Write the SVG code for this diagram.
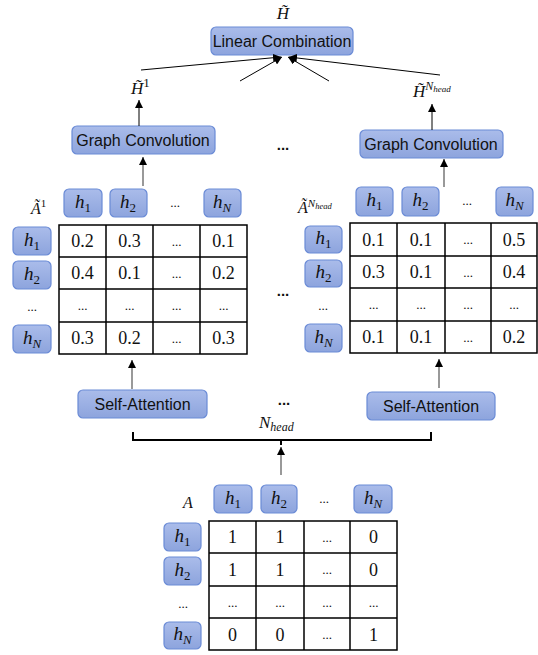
<svg xmlns="http://www.w3.org/2000/svg" width="538" height="655" viewBox="0 0 538 655">
<defs>
<linearGradient id="bg" x1="0" y1="0" x2="0" y2="1">
<stop offset="0" stop-color="#AABCEA"/>
<stop offset="1" stop-color="#8DA4DD"/>
</linearGradient>
<marker id="ah" viewBox="0 0 10 10" refX="10" refY="5" markerWidth="8" markerHeight="8" markerUnits="userSpaceOnUse" orient="auto">
<path d="M0,0 L10,5 L0,10 z" fill="#000"/>
</marker>
</defs>
<style>
.box{fill:url(#bg);stroke:#6A8BD6;stroke-width:1.2}
.lbl{font-family:"Liberation Sans",Arial,sans-serif;font-size:16px;fill:#111;text-anchor:middle}
.m{font-family:"Liberation Serif","DejaVu Serif",serif;font-style:italic;fill:#111}
.h{font-family:"Liberation Serif","DejaVu Serif",serif;font-style:italic;font-size:19px;fill:#111;text-anchor:middle}
.sub{font-size:13px;font-style:normal}
.subi{font-size:13px;font-style:italic}
.c{font-family:"Liberation Serif","Times New Roman",serif;font-size:18px;fill:#111;text-anchor:middle}
.d{font-family:"Liberation Serif","Times New Roman",serif;font-size:13px;fill:#111;text-anchor:middle}
.bd{font-family:"Liberation Sans",Arial,sans-serif;font-size:15px;font-weight:bold;fill:#111;text-anchor:middle}
.grid{fill:none;stroke:#000;stroke-width:1.5}
.con{stroke:#000;stroke-width:1;fill:none}
.gcon{stroke:#555;stroke-width:1.2;fill:none}
</style>

<text class="m" x="283" y="19" font-size="17" text-anchor="middle">H̃</text>

<g id="linear-combination">
<rect class="box" x="211" y="27" width="142" height="28" rx="5"/>
<text class="lbl" x="282" y="47">Linear Combination</text>
</g>

<text class="m" x="131" y="94" font-size="17">H̃<tspan font-size="13" font-style="normal" dy="-7">1</tspan></text>
<text class="m" x="413" y="97" font-size="17">H̃<tspan font-size="12" dy="-7">N</tspan><tspan font-size="9" dy="2">head</tspan></text>

<g id="graph-conv-1">
<rect class="box" x="72" y="126" width="143" height="28" rx="5"/>
<text class="lbl" x="143" y="146">Graph Convolution</text>
</g>
<g id="graph-conv-n">
<rect class="box" x="360" y="130" width="143" height="28" rx="5"/>
<text class="lbl" x="431" y="150">Graph Convolution</text>
</g>
<text class="bd" x="283" y="150">...</text>

<g id="matrix-1">
<text class="m" x="31" y="214" font-size="16">Ã<tspan font-size="11" font-style="normal" dy="-7">1</tspan></text>
<rect class="box" x="64" y="189" width="38" height="28" rx="5"/>
<text class="h" x="83" y="208">h<tspan class="sub" dy="4">1</tspan></text>
<rect class="box" x="110" y="189" width="37" height="28" rx="5"/>
<text class="h" x="128" y="208">h<tspan class="sub" dy="4">2</tspan></text>
<text class="d" x="175" y="207">...</text>
<rect class="box" x="204" y="189" width="37" height="28" rx="5"/>
<text class="h" x="222" y="208">h<tspan class="subi" dy="4">N</tspan></text>

<rect class="box" x="13" y="227" width="38" height="28" rx="5"/>
<text class="h" x="32" y="246">h<tspan class="sub" dy="4">1</tspan></text>
<rect class="box" x="13" y="261" width="38" height="28" rx="5"/>
<text class="h" x="32" y="280">h<tspan class="sub" dy="4">2</tspan></text>
<text class="d" x="32" y="311">...</text>
<rect class="box" x="13" y="325" width="38" height="28" rx="5"/>
<text class="h" x="32" y="344">h<tspan class="subi" dy="4">N</tspan></text>

<path class="grid" d="M59,225H247V354H59Z M106,225V354 M153,225V354 M200,225V354 M59,257H247 M59,289H247 M59,322H247"/>
<text class="c" x="82.5" y="247">0.2</text><text class="c" x="129.5" y="247">0.3</text><text class="d" x="176.5" y="246">...</text><text class="c" x="223.5" y="247">0.1</text>
<text class="c" x="82.5" y="279">0.4</text><text class="c" x="129.5" y="279">0.1</text><text class="d" x="176.5" y="278">...</text><text class="c" x="223.5" y="279">0.2</text>
<text class="d" x="82.5" y="310">...</text><text class="d" x="129.5" y="310">...</text><text class="d" x="176.5" y="310">...</text><text class="d" x="223.5" y="310">...</text>
<text class="c" x="82.5" y="344">0.3</text><text class="c" x="129.5" y="344">0.2</text><text class="d" x="176.5" y="343">...</text><text class="c" x="223.5" y="344">0.3</text>
</g>

<text class="bd" x="283" y="296">...</text>

<g id="matrix-n">
<text class="m" x="298" y="213" font-size="16">Ã<tspan font-size="11" dy="-6">N</tspan><tspan font-size="8.5" dy="2">head</tspan></text>
<rect class="box" x="356" y="187" width="37" height="29" rx="5"/>
<text class="h" x="374.5" y="206">h<tspan class="sub" dy="4">1</tspan></text>
<rect class="box" x="402" y="187" width="37" height="29" rx="5"/>
<text class="h" x="420.5" y="206">h<tspan class="sub" dy="4">2</tspan></text>
<text class="d" x="467" y="205">...</text>
<rect class="box" x="496" y="187" width="37" height="29" rx="5"/>
<text class="h" x="514.5" y="206">h<tspan class="subi" dy="4">N</tspan></text>

<rect class="box" x="305" y="226" width="37" height="27" rx="5"/>
<text class="h" x="323.5" y="244">h<tspan class="sub" dy="4">1</tspan></text>
<rect class="box" x="305" y="260" width="37" height="27" rx="5"/>
<text class="h" x="323.5" y="278">h<tspan class="sub" dy="4">2</tspan></text>
<text class="d" x="323" y="310">...</text>
<rect class="box" x="305" y="324" width="37" height="28" rx="5"/>
<text class="h" x="323.5" y="343">h<tspan class="subi" dy="4">N</tspan></text>

<path class="grid" d="M350,223H537V353H350Z M397,223V353 M445,223V353 M491,223V353 M350,256H537 M350,288H537 M350,321H537"/>
<text class="c" x="373.5" y="246">0.1</text><text class="c" x="421" y="246">0.1</text><text class="d" x="468" y="244">...</text><text class="c" x="514" y="246">0.5</text>
<text class="c" x="373.5" y="278">0.3</text><text class="c" x="421" y="278">0.1</text><text class="d" x="468" y="277">...</text><text class="c" x="514" y="278">0.4</text>
<text class="d" x="373.5" y="309">...</text><text class="d" x="421" y="309">...</text><text class="d" x="468" y="309">...</text><text class="d" x="514" y="309">...</text>
<text class="c" x="373.5" y="343">0.1</text><text class="c" x="421" y="343">0.1</text><text class="d" x="468" y="342">...</text><text class="c" x="514" y="343">0.2</text>
</g>

<g id="self-attention-1">
<rect class="box" x="78" y="390" width="129" height="28" rx="5"/>
<text class="lbl" x="142.5" y="410">Self-Attention</text>
</g>
<g id="self-attention-n">
<rect class="box" x="367" y="392" width="128" height="28" rx="5"/>
<text class="lbl" x="431" y="412">Self-Attention</text>
</g>
<text class="bd" x="284" y="405">...</text>
<text class="m" x="259" y="428" font-size="17">N<tspan font-size="12" dy="3">head</tspan></text>

<g id="matrix-a">
<text class="m" x="188" y="508" font-size="16" text-anchor="middle">A</text>
<rect class="box" x="214" y="485" width="38" height="28" rx="5"/>
<text class="h" x="233" y="504">h<tspan class="sub" dy="4">1</tspan></text>
<rect class="box" x="261" y="485" width="36" height="28" rx="5"/>
<text class="h" x="279" y="504">h<tspan class="sub" dy="4">2</tspan></text>
<text class="d" x="324" y="503">...</text>
<rect class="box" x="354" y="485" width="38" height="28" rx="5"/>
<text class="h" x="373" y="504">h<tspan class="subi" dy="4">N</tspan></text>

<rect class="box" x="164" y="523" width="37" height="28" rx="5"/>
<text class="h" x="182.5" y="542">h<tspan class="sub" dy="4">1</tspan></text>
<rect class="box" x="164" y="557" width="37" height="28" rx="5"/>
<text class="h" x="182.5" y="576">h<tspan class="sub" dy="4">2</tspan></text>
<text class="d" x="183" y="608">...</text>
<rect class="box" x="164" y="622" width="37" height="27" rx="5"/>
<text class="h" x="182.5" y="640">h<tspan class="subi" dy="4">N</tspan></text>

<path class="grid" d="M209,521H397V650H209Z M256,521V650 M304,521V650 M350,521V650 M209,553H397 M209,586H397 M209,618H397"/>
<text class="c" x="232.5" y="543">1</text><text class="c" x="280" y="543">1</text><text class="d" x="327" y="542">...</text><text class="c" x="373.5" y="543">0</text>
<text class="c" x="232.5" y="576">1</text><text class="c" x="280" y="576">1</text><text class="d" x="327" y="574">...</text><text class="c" x="373.5" y="576">0</text>
<text class="d" x="232.5" y="607">...</text><text class="d" x="280" y="607">...</text><text class="d" x="327" y="607">...</text><text class="d" x="373.5" y="607">...</text>
<text class="c" x="232.5" y="641">0</text><text class="c" x="280" y="641">0</text><text class="d" x="327" y="639">...</text><text class="c" x="373.5" y="641">1</text>
</g>

<g id="connectors">
<line class="con" x1="141" y1="70" x2="281" y2="57" marker-end="url(#ah)"/>
<line class="con" x1="240" y1="81" x2="282" y2="57" marker-end="url(#ah)"/>
<line class="con" x1="329" y1="81" x2="288" y2="57" marker-end="url(#ah)"/>
<line class="con" x1="440" y1="75" x2="289" y2="57" marker-end="url(#ah)"/>
<line class="con" x1="139" y1="126" x2="139" y2="100" marker-end="url(#ah)"/>
<line class="con" x1="432" y1="130" x2="432" y2="104" marker-end="url(#ah)"/>
<line class="gcon" x1="143" y1="186" x2="143" y2="157" marker-end="url(#ah)"/>
<line class="gcon" x1="444" y1="187" x2="444" y2="159" marker-end="url(#ah)"/>
<line class="gcon" x1="132" y1="389" x2="132" y2="360" marker-end="url(#ah)"/>
<line class="gcon" x1="439" y1="388" x2="439" y2="359" marker-end="url(#ah)"/>
<path d="M133,432V440H431V432 M281,440V445" fill="none" stroke="#000" stroke-width="2"/>
<line class="gcon" x1="281" y1="475" x2="281" y2="447" marker-end="url(#ah)"/>
</g>
</svg>
